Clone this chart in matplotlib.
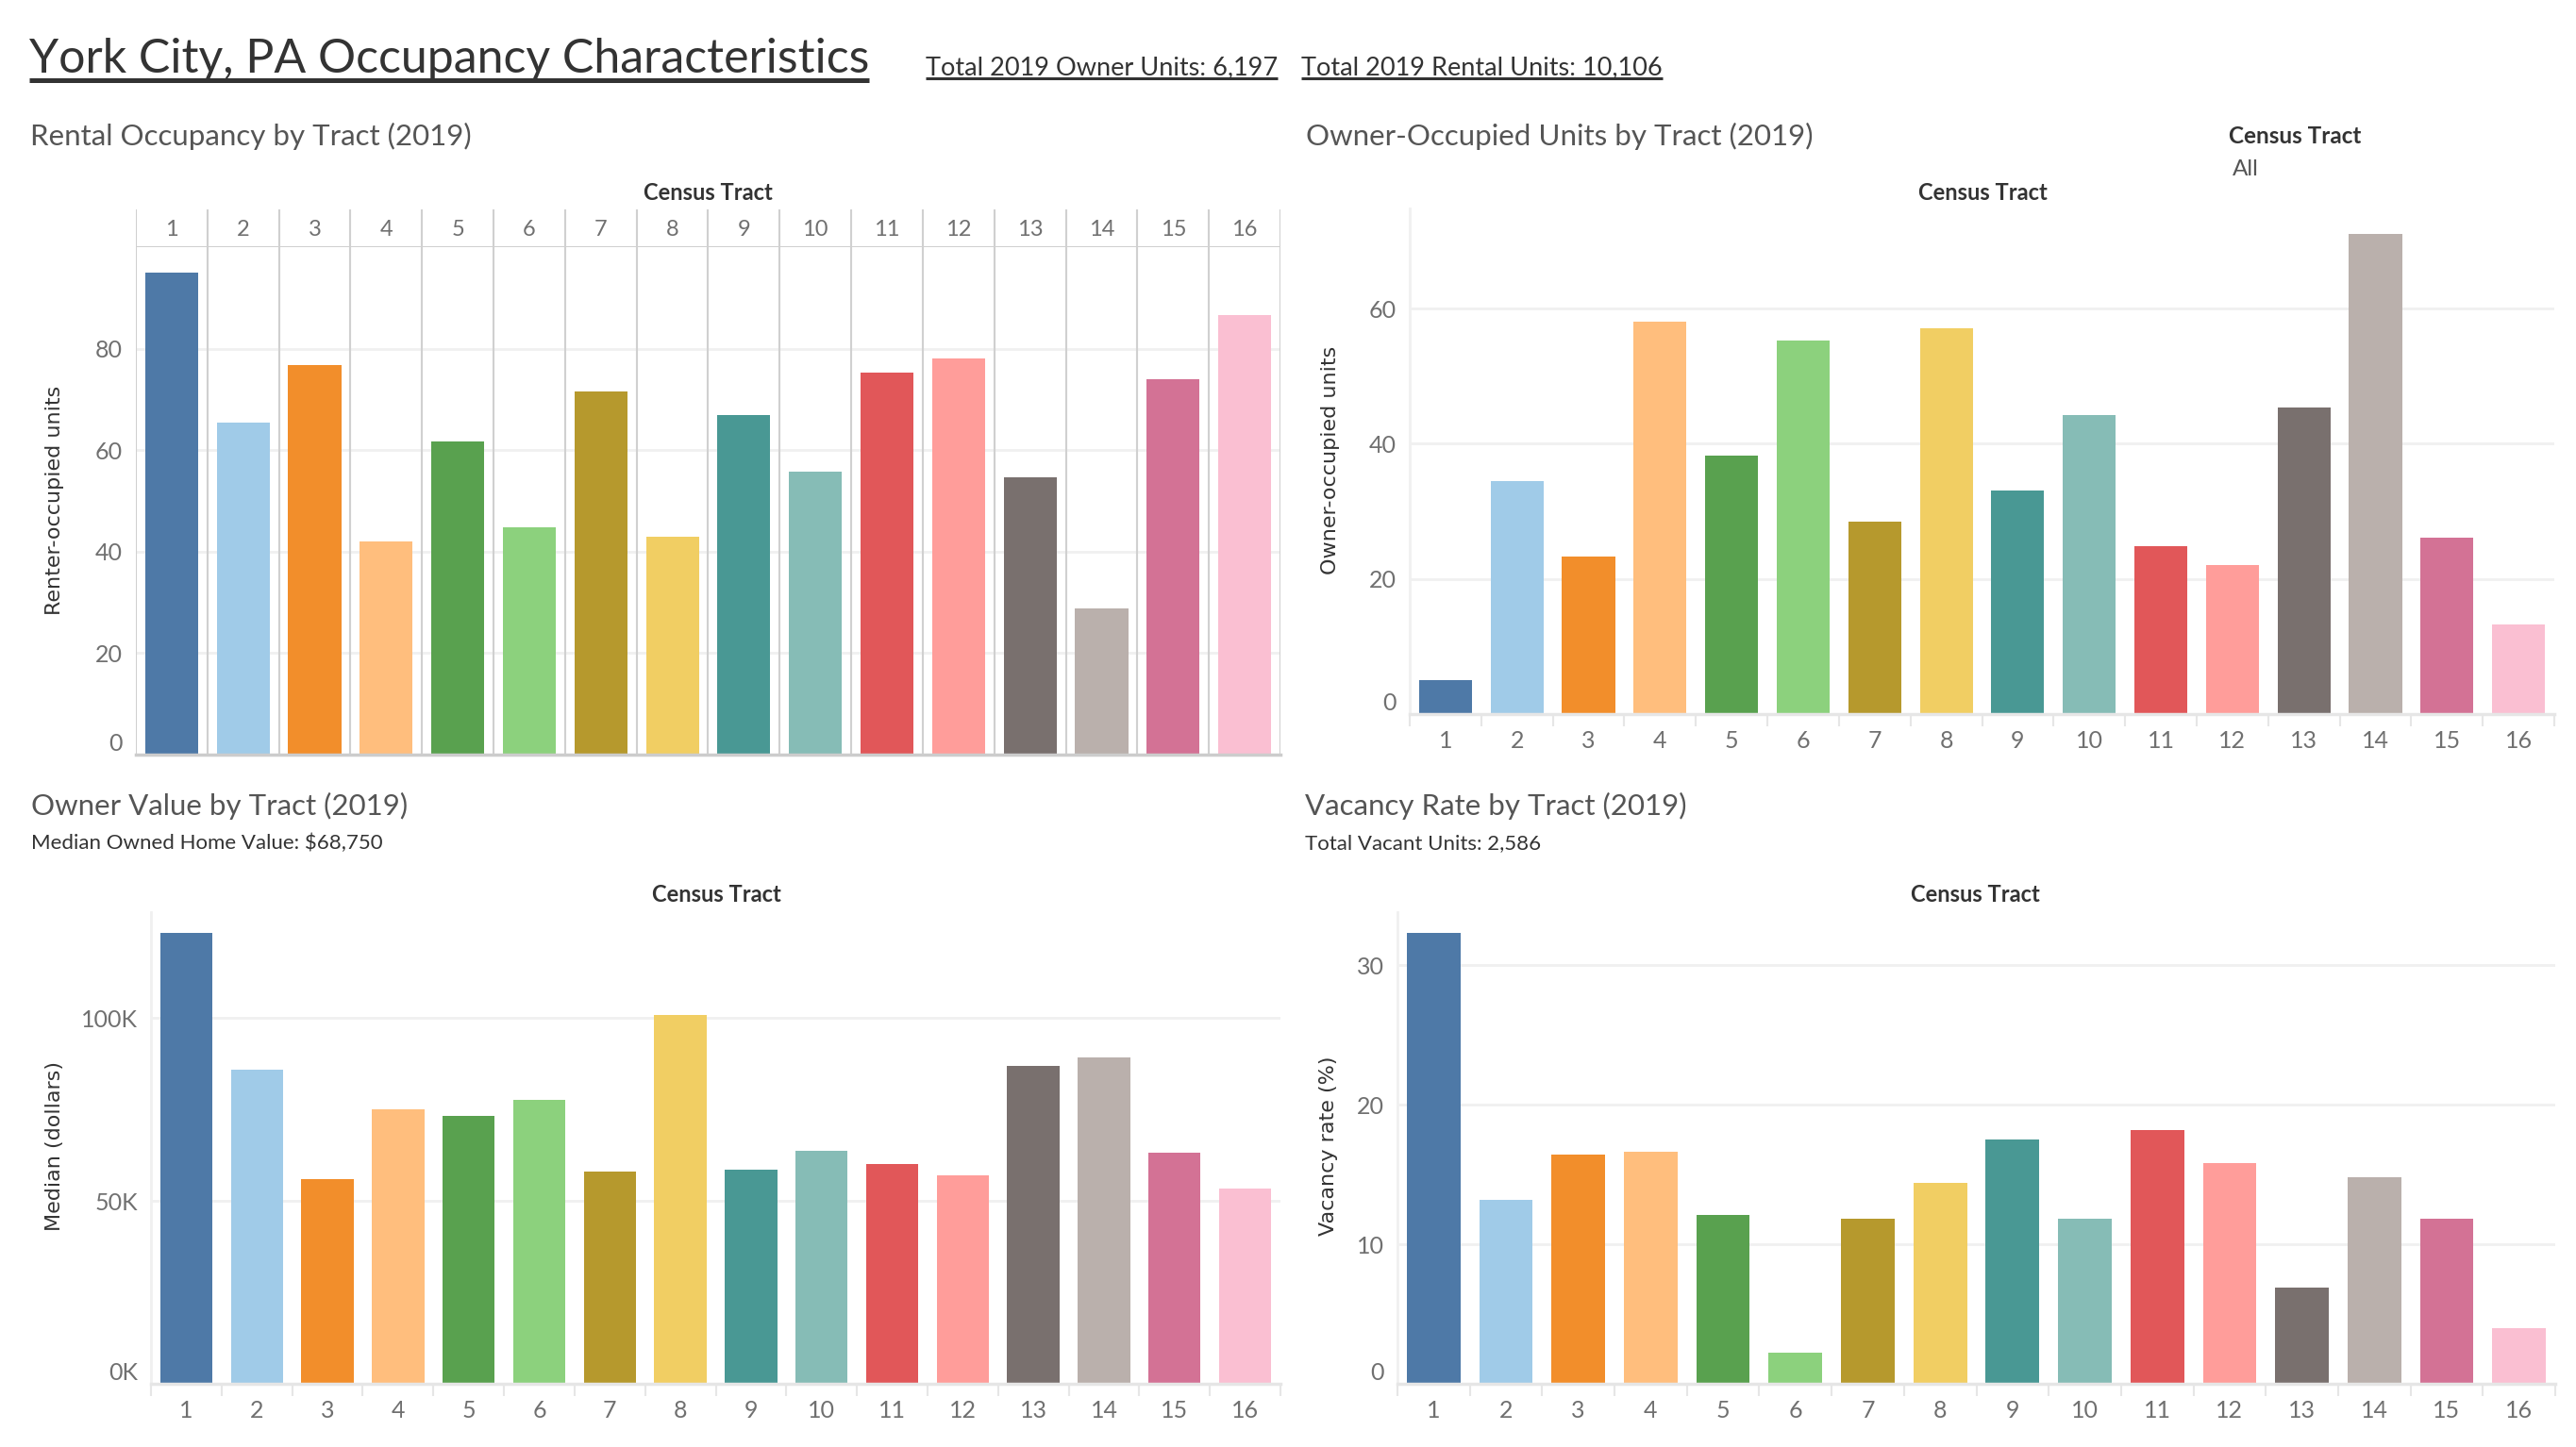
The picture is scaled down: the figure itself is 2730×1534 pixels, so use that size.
import matplotlib
matplotlib.use("Agg")
import matplotlib.pyplot as plt
from matplotlib.lines import Line2D
from matplotlib.ticker import FuncFormatter
import numpy as np

W, H = 2730, 1534
DPI = 100

tracts = [str(i) for i in range(1, 17)]
tract_colors = ["#4E79A7", "#A0CBE8", "#F28E2B", "#FFBE7D", "#59A14F", "#8CD17D",
                "#B6992D", "#F1CE63", "#499894", "#86BCB6", "#E15759", "#FF9D9A",
                "#79706E", "#BAB0AC", "#D37295", "#FABFD2"]

renter_pct = [95.0, 65.5, 76.7, 42.0, 61.8, 44.8, 71.6, 42.9, 66.9, 55.7, 75.2, 78.0, 54.6, 28.9, 73.9, 86.7]
owner_pct = [5.0, 34.5, 23.3, 58.0, 38.2, 55.2, 28.4, 57.1, 33.1, 44.3, 24.8, 22.0, 45.4, 71.1, 26.1, 13.3]
median_value = [123200, 85900, 56000, 75100, 73100, 77600, 58000, 100900,
                58600, 63800, 60100, 56900, 86900, 89100, 63200, 53400]
vacancy_rate = [32.3, 13.2, 16.4, 16.6, 12.1, 2.2, 11.8, 14.4, 17.5, 11.8, 18.2, 15.8, 6.9, 14.8, 11.8, 4.0]

plt.rcParams['font.family'] = ['Lato', 'DejaVu Sans']

fig = plt.figure(figsize=(W / DPI, H / DPI), dpi=DPI)
fig.patch.set_facecolor("white")

TICK_COLOR = "#707070"
GRID_COLOR = "#f0f0f0"
LINE_COLOR = "#d0d0d0"


def px_axes(left, top, right, bottom):
    return fig.add_axes([left / W, 1 - bottom / H, (right - left) / W, (bottom - top) / H])


def fig_text(x, y, s, **kw):
    return fig.text(x / W, 1 - y / H, s, **kw)


def bar_panel(ax, values, ymax, yticks, fmt=None, bottom_labels=True):
    x = np.arange(len(tracts))
    ax.bar(x, values, width=0.74, color=tract_colors, zorder=2)
    ax.set_xlim(-0.5, len(tracts) - 0.5)
    ax.set_ylim(0, ymax)
    ax.set_yticks(yticks)
    if fmt is not None:
        ax.yaxis.set_major_formatter(FuncFormatter(fmt))
    ax.yaxis.grid(True, color=GRID_COLOR, linewidth=2, zorder=0)
    ax.set_axisbelow(True)
    for s in ["top", "right"]:
        ax.spines[s].set_visible(False)
    ax.spines["left"].set_color(GRID_COLOR)
    ax.spines["left"].set_linewidth(2)
    ax.spines["bottom"].set_color("#e6e6e6")
    ax.spines["bottom"].set_linewidth(2.5)
    ax.tick_params(axis="y", length=0, pad=10, labelsize=18, labelcolor=TICK_COLOR)
    if bottom_labels:
        ax.set_xticks(x)
        ax.set_xticklabels(tracts)
        ax.set_xticks(np.arange(len(tracts) + 1) - 0.5, minor=True)
        ax.tick_params(axis="x", which="major", length=0, pad=12, labelsize=18, labelcolor=TICK_COLOR)
        ax.tick_params(axis="x", which="minor", length=9, width=1.5, color="#e6e6e6")
    else:
        ax.set_xticks([])
    ax.get_yticklabels()[0].set_va("bottom")
    return ax


# --- top left: rental occupancy with column header
ax1 = px_axes(144, 262, 1357, 800)
bar_panel(ax1, renter_pct, 100, [0, 20, 40, 60, 80], bottom_labels=False)
ax1.spines["bottom"].set_color("#cccccc")
ax1.spines["left"].set_visible(False)
for b in np.arange(len(tracts) + 1) - 0.5:
    ax1.axvline(b, color=LINE_COLOR, linewidth=1.5, zorder=1)

hdr = px_axes(144, 222, 1357, 262)
hdr.set_xlim(-0.5, len(tracts) - 0.5)
hdr.set_ylim(0, 1)
hdr.axis("off")
for b in np.arange(len(tracts) + 1) - 0.5:
    hdr.axvline(b, color=LINE_COLOR, linewidth=1.5)
hdr.axhline(0, color=LINE_COLOR, linewidth=1.5)
for i, t in enumerate(tracts):
    hdr.text(i, 0.45, t, ha="center", va="center", fontsize=17, color=TICK_COLOR)

# --- top right: owner occupied
ax2 = px_axes(1494, 221, 2707, 757)
bar_panel(ax2, owner_pct, 74.8, [0, 20, 40, 60])

# --- bottom left: owner value
ax3 = px_axes(160, 967, 1357, 1467)
bar_panel(ax3, median_value, 128900, [0, 50000, 100000], fmt=lambda v, p: "{:.0f}K".format(v / 1000))

# --- bottom right: vacancy rate
ax4 = px_axes(1481, 967, 2708, 1467)
bar_panel(ax4, vacancy_rate, 33.8, [0, 10, 20, 30])

# --- axis titles
ylab_kw = dict(rotation=90, ha="center", va="center", fontsize=16, color="#333333",
               family="DejaVu Sans")
fig_text(58, 530, "Renter-occupied units", **ylab_kw)
fig_text(1410, 488, "Owner-occupied units", **ylab_kw)
fig_text(58, 1215, "Median (dollars)", **ylab_kw)
fig_text(1408, 1215, "Vacancy rate (%)", **ylab_kw)

hdr_kw = dict(ha="center", va="center", fontsize=17, color="#333333", fontweight="bold")
fig_text(750, 205, "Census Tract", **hdr_kw)
fig_text(2101, 205, "Census Tract", **hdr_kw)
fig_text(759, 949, "Census Tract", **hdr_kw)
fig_text(2093, 949, "Census Tract", **hdr_kw)

# --- panel titles
pt_kw = dict(ha="left", va="center", fontsize=22.5, color="#555555")
fig_text(32, 144, "Rental Occupancy by Tract (2019)", **pt_kw)
fig_text(1384, 144, "Owner-Occupied Units by Tract (2019)", **pt_kw)
fig_text(33, 854, "Owner Value by Tract (2019)", **pt_kw)
fig_text(1383, 854, "Vacancy Rate by Tract (2019)", **pt_kw)
sub_kw = dict(ha="left", va="center", fontsize=16, color="#333333")
fig_text(33, 894, "Median Owned Home Value: $68,750", **sub_kw)
fig_text(1383, 894, "Total Vacant Units: 2,586", **sub_kw)

# filter card
fig_text(2362, 144, "Census Tract", ha="left", va="center", fontsize=17.5, color="#333333", fontweight="bold")
fig_text(2366, 180, "All", ha="left", va="center", fontsize=17.5, color="#555555")

# --- main title and links
title = fig_text(31, 77, "York City, PA Occupancy Characteristics", ha="left", va="baseline",
                 fontsize=36, color="#333333")
link1 = fig_text(981, 79, "Total 2019 Owner Units: 6,197", ha="left", va="baseline",
                 fontsize=19.5, color="#333333")
link2 = fig_text(1379, 79, "Total 2019 Rental Units: 10,106", ha="left", va="baseline",
                 fontsize=19.5, color="#333333")

fig.canvas.draw()
renderer = fig.canvas.get_renderer()


def underline(txt, y, lw, color="#333333"):
    bb = txt.get_window_extent(renderer)
    fig.add_artist(Line2D([bb.x0 / W, bb.x1 / W], [1 - y / H, 1 - y / H],
                          transform=fig.transFigure, color=color, linewidth=lw,
                          solid_capstyle="butt"))


underline(title, 85, 3.6)
underline(link1, 83, 2.2)
underline(link2, 83, 2.2)

fig.savefig("out.png", dpi=DPI, facecolor="white")
